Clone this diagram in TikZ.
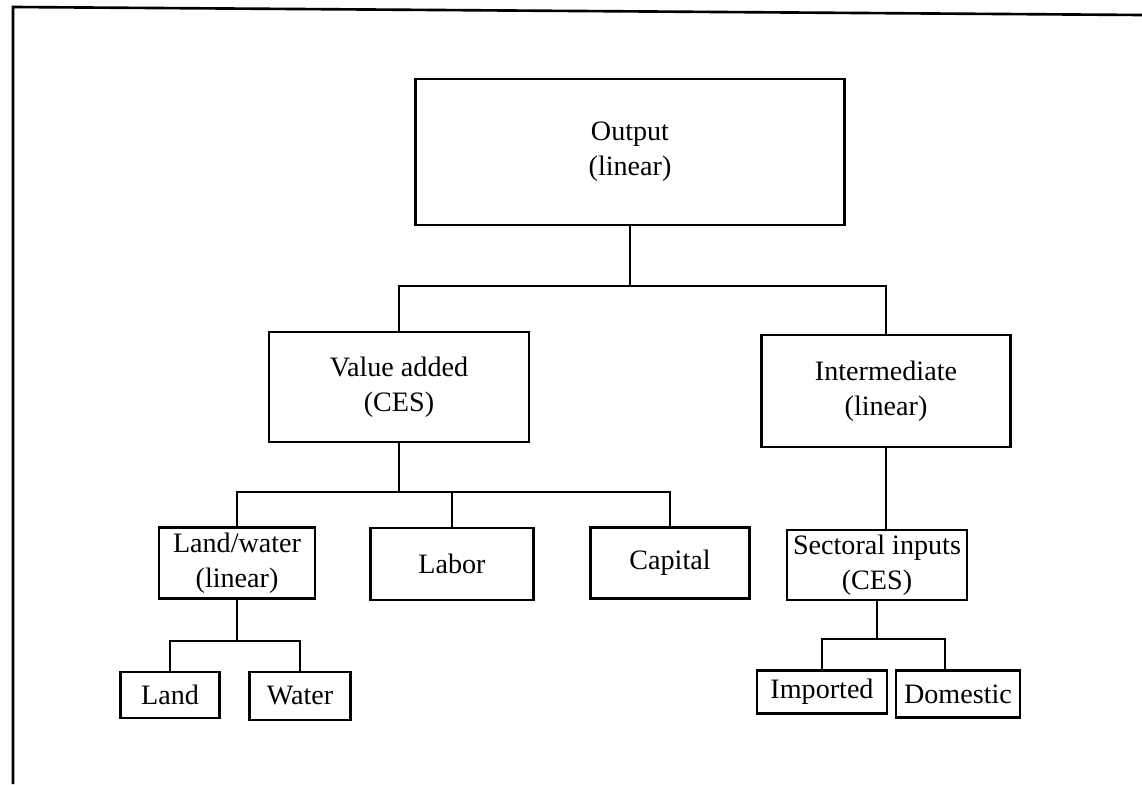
\documentclass[tikz,border=0pt]{standalone}
\usepackage{fontspec}
\setmainfont{Liberation Serif}
\usepackage{tikz}

\begin{document}
\begin{tikzpicture}[x=0.02cm, y=-0.02cm,
    box/.style={draw, line width=1.3pt, inner sep=0pt, align=center,
        font=\fontsize{16}{20}\selectfont},
    link/.style={line width=1pt}]
    \useasboundingbox (0,0) rectangle (1142,784);

    % Frame
    \draw[line width=1.5pt] (13,784) -- (13,7) -- (1142,15);

    % Top level
    \node[box, minimum width=8.58cm, minimum height=2.92cm] (out) at (630,152) {Output\\(linear)};

    % Second level
    \node[box, minimum width=5.2cm, minimum height=2.2cm] (va) at (399,387) {Value added\\(CES)};
    \node[box, minimum width=4.98cm, minimum height=2.24cm] (inter) at (886,391) {Intermediate\\(linear)};

    % Third level
    \node[box, minimum width=3.12cm, minimum height=1.42cm] (lw) at (237,563) {Land/water\\(linear)};
    \node[box, minimum width=3.26cm, minimum height=1.44cm] (labor) at (452,564) {Labor};
    \node[box, minimum width=3.18cm, minimum height=1.42cm] (capital) at (670,563) {Capital};
    \node[box, minimum width=3.6cm, minimum height=1.4cm] (sect) at (877,565) {Sectoral inputs\\(CES)};

    % Bottom level
    \node[box, minimum width=1.98cm, minimum height=0.92cm] (land) at (170,695) {Land};
    \node[box, minimum width=2.02cm, minimum height=0.96cm] (water) at (300,696) {Water};
    \node[box, minimum width=2.6cm, minimum height=0.86cm] (imp) at (822,692) {Imported};
    \node[box, minimum width=2.48cm, minimum height=0.94cm] (dom) at (958,694) {Domestic};

    % Connectors
    \coordinate (bus1) at (out.south |- 0,286);
    \draw[link] (out.south) -- (bus1);
    \draw[link] (va.north) |- (bus1) -| (inter.north);

    \coordinate (bus2) at (va.south |- 0,492);
    \draw[link] (va.south) -- (bus2);
    \draw[link] (lw.north) |- (bus2) -| (capital.north);
    \draw[link] (labor.north) -- (labor.north |- bus2);

    \draw[link] (inter.south) -- (inter.south |- sect.north);

    \coordinate (bus3) at (lw.south |- 0,641);
    \draw[link] (lw.south) -- (bus3);
    \draw[link] (land.north) |- (bus3) -| (water.north);

    \coordinate (bus4) at (883,639);
    \draw[link] (sect.south) -- (sect.south |- bus4);
    \draw[link] (imp.north) |- (bus4) -| ([xshift=-0.26cm]dom.north);
\end{tikzpicture}
\end{document}
